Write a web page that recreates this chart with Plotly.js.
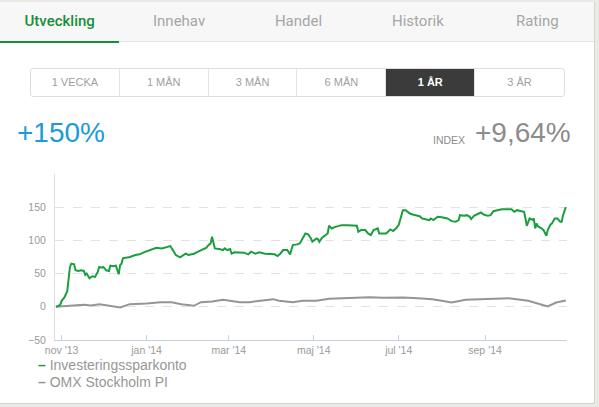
<!DOCTYPE html>
<html><head><meta charset="utf-8">
<script src="https://cdn.plot.ly/plotly-3.0.1.min.js"></script>
<style>
html,body{margin:0;padding:0;width:599px;height:407px;overflow:hidden;background:#e9e9e5;font-family:"Liberation Sans",Arial,sans-serif;}
#card{position:absolute;left:0;top:2px;width:594px;height:401px;background:#fff;border-right:1px solid #d4d4d0;border-bottom:1px solid #d4d4d0;}
#tabs{position:absolute;left:0;top:2px;width:594px;height:39px;background:#f7f7f7;border-bottom:1px solid #e3e3e3;}
.tab{position:absolute;top:0;height:39px;line-height:38px;text-align:center;font-family:Roboto,"Liberation Sans",sans-serif;font-size:15px;color:#a6a6a6;}
.tab.active{color:#15903a;font-weight:500;}
#uline{position:absolute;left:0;top:41px;width:119px;height:2px;background:#15903a;}
#btns{position:absolute;left:30px;top:68px;width:533px;height:27px;border:1px solid #dedede;border-radius:3px;overflow:hidden;}
.btn{position:absolute;top:0;height:27px;line-height:27px;text-align:center;font-size:11px;color:#a0a0a0;border-right:1px solid #e3e3e3;box-sizing:border-box;}
.btn.active{background:#3b3b3b;color:#fff;font-weight:bold;}
#chart{position:absolute;left:0;top:0;width:599px;height:407px;}
.big{position:absolute;font-size:28px;line-height:28px;}
#ret{left:17px;top:119px;color:#1b9bd8;}
#idx{left:475px;top:119px;color:#8c8c8c;}
#idxl{position:absolute;left:433px;top:134px;font-size:10.5px;color:#8c8c8c;}
</style></head>
<body>
<div id="card"></div>
<div id="chart"></div>
<div id="tabs"></div>
<div id="uline"></div>
<div id="btns"></div>
<div id="ret" class="big"></div>
<div id="idxl"></div>
<div id="idx" class="big"></div>
<script>
// ---- data ----
const tabLabels = ["Utveckling","Innehav","Handel","Historik","Rating"];
const periodLabels = ["1 VECKA","1 MÅN","3 MÅN","6 MÅN","1 ÅR","3 ÅR"];
const activePeriod = "1 ÅR";
const returnText = "+150%";
const indexLabel = "INDEX";
const indexText = "+9,64%";

const seriesNames = ["Investeringssparkonto","OMX Stockholm PI"];
const seriesColors = ["#1b9e3e","#959595"];

const accountDates = ['2013-10-28','2013-10-31','2013-11-01','2013-11-03','2013-11-05','2013-11-06','2013-11-07','2013-11-08','2013-11-10','2013-11-11','2013-11-13','2013-11-15','2013-11-17','2013-11-18','2013-11-19','2013-11-21','2013-11-23','2013-11-25','2013-11-27','2013-11-28','2013-11-30','2013-12-01','2013-12-03','2013-12-05','2013-12-06','2013-12-08','2013-12-10','2013-12-11','2013-12-12','2013-12-13','2013-12-14','2013-12-15','2013-12-18','2013-12-20','2013-12-24','2013-12-27','2013-12-30','2014-01-02','2014-01-05','2014-01-08','2014-01-12','2014-01-15','2014-01-18','2014-01-20','2014-01-22','2014-01-25','2014-01-27','2014-01-29','2014-01-31','2014-02-04','2014-02-07','2014-02-10','2014-02-13','2014-02-14','2014-02-16','2014-02-17','2014-02-18','2014-02-19','2014-02-22','2014-02-25','2014-02-26','2014-02-28','2014-03-02','2014-03-03','2014-03-05','2014-03-09','2014-03-12','2014-03-15','2014-03-17','2014-03-20','2014-03-23','2014-03-27','2014-03-31','2014-04-03','2014-04-05','2014-04-07','2014-04-09','2014-04-12','2014-04-14','2014-04-16','2014-04-19','2014-04-21','2014-04-23','2014-04-25','2014-04-27','2014-04-29','2014-04-30','2014-05-03','2014-05-04','2014-05-05','2014-05-07','2014-05-09','2014-05-11','2014-05-12','2014-05-14','2014-05-16','2014-05-18','2014-05-21','2014-05-25','2014-05-28','2014-06-01','2014-06-02','2014-06-04','2014-06-07','2014-06-09','2014-06-11','2014-06-13','2014-06-16','2014-06-17','2014-06-19','2014-06-22','2014-06-25','2014-06-27','2014-06-29','2014-07-01','2014-07-03','2014-07-04','2014-07-06','2014-07-09','2014-07-11','2014-07-13','2014-07-16','2014-07-18','2014-07-21','2014-07-23','2014-07-24','2014-07-26','2014-07-29','2014-08-01','2014-08-05','2014-08-08','2014-08-11','2014-08-13','2014-08-14','2014-08-17','2014-08-19','2014-08-21','2014-08-22','2014-08-24','2014-08-26','2014-08-29','2014-08-31','2014-09-03','2014-09-05','2014-09-07','2014-09-10','2014-09-13','2014-09-17','2014-09-20','2014-09-22','2014-09-24','2014-09-27','2014-09-29','2014-09-30','2014-10-01','2014-10-03','2014-10-05','2014-10-06','2014-10-07','2014-10-08','2014-10-09','2014-10-11','2014-10-13','2014-10-15','2014-10-16','2014-10-18','2014-10-19','2014-10-21','2014-10-23','2014-10-25','2014-10-26','2014-10-27','2014-10-28','2014-10-29'];
const accountValues = [0,3,9,14,23,43,60,65,64,55,54,55,54,48,50,43,46,45,53,60,59,60,55,54,62,61,62,55,49,63,65,73,74,75,78,79,82,84,86,89,88,90,91.5,85,78,74.5,77,80,78,80,83,86,89,92,95.5,105.5,94,88,87,85.5,88,85.5,87,80,82,82,81.5,79,83,80,82,80,79,79,76.5,80,85.5,85.5,79,93,94,95.5,103,110.5,109,103,98,103,102,98,104,107,110.5,122,118,120,121,123,123,123,122,113,115.5,115.5,110.5,108,115.5,118,110.5,110.5,110.5,116.5,114,118,123,138,145.5,145.5,140.5,139,138,136.5,133,132,130.5,133,130.5,135.5,135,133,129,128,130.5,138,137,138,135.5,132,137,139,142,139,137,138,144,145.5,147,147,147,143,145.5,144,143,133,122,133,131,133,118,125.5,121,119,115.5,107,115.5,124,125.5,133,133,128,128,138,145.5,150];

const indexDates = ['2013-10-28','2013-11-05','2013-11-12','2013-11-17','2013-11-22','2013-11-28','2013-12-04','2013-12-10','2013-12-13','2013-12-20','2014-01-01','2014-01-11','2014-01-19','2014-01-26','2014-02-04','2014-02-09','2014-02-17','2014-02-25','2014-03-03','2014-03-09','2014-03-16','2014-03-20','2014-03-27','2014-04-02','2014-04-06','2014-04-16','2014-04-23','2014-05-03','2014-05-12','2014-05-25','2014-06-03','2014-06-10','2014-06-20','2014-07-04','2014-07-15','2014-07-25','2014-08-01','2014-08-08','2014-08-18','2014-09-01','2014-09-18','2014-10-02','2014-10-10','2014-10-16','2014-10-22','2014-10-29'];
const indexValues = [0,1,2,3,2,4,2,0,-1,4,5,7,7,4,1.5,7,8,10.5,9,7,7,8,10,11.5,9,7,9,9,12,13,14,14.5,13.5,14,13,11.5,9,6.5,10.5,12,13,9,4,0.5,6.5,9.64];

const xTickVals = ['2013-11-01','2014-01-01','2014-03-01','2014-05-01','2014-07-01','2014-09-01'];
const xTickText = ["nov '13","jan '14","mar '14","maj '14","jul '14","sep '14"];
const yTickVals = [-50,0,50,100,150];

// ---- header (HTML) ----
const tabs = document.getElementById('tabs');
tabLabels.forEach((t,i)=>{
  const d=document.createElement('div');
  d.className='tab'+(i===0?' active':'');
  d.style.left=(i*119.4)+'px'; d.style.width='119.4px';
  d.textContent=t; tabs.appendChild(d);
});
const btns=document.getElementById('btns');
const bw=533/periodLabels.length;
periodLabels.forEach((t,i)=>{
  const d=document.createElement('div');
  d.className='btn'+(t===activePeriod?' active':'');
  d.style.left=(i*bw)+'px'; d.style.width=bw+'px';
  if(i===periodLabels.length-1) d.style.borderRight='none';
  d.textContent=t; btns.appendChild(d);
});
document.getElementById('ret').textContent=returnText;
document.getElementById('idxl').textContent=indexLabel;
document.getElementById('idx').textContent=indexText;

// ---- chart ----
const traces=[
  {x:accountDates,y:accountValues,type:'scatter',mode:'lines',name:seriesNames[0],line:{color:seriesColors[0],width:2}},
  {x:indexDates,y:indexValues,type:'scatter',mode:'lines',name:seriesNames[1],line:{color:seriesColors[1],width:2}}
];
traces.reverse();
const font="Liberation Sans, Arial, sans-serif";
const annotations=seriesNames.map((n,i)=>({
  xref:'paper',yref:'paper',x:-0.037,y:-0.152-i*0.1,xanchor:'left',yanchor:'middle',showarrow:false,
  text:'<span style="color:'+seriesColors[i]+'"><b>–</b></span> '+n,
  font:{family:font,size:14,color:'#979797'}
}));
const layout={
  width:599,height:407,
  margin:{l:55,r:32,t:174,b:67,pad:0},
  paper_bgcolor:'rgba(0,0,0,0)',plot_bgcolor:'rgba(0,0,0,0)',
  showlegend:false,
  xaxis:{type:'date',range:['2013-10-27 06:00','2014-10-29 20:00'],tickvals:xTickVals,ticktext:xTickText,
    showgrid:false,showline:true,linecolor:'#c8d3e1',linewidth:1,ticks:'inside',ticklen:5,tickcolor:'#c8d3e1',
    tickfont:{family:font,size:10.5,color:'#9a9a9a'},zeroline:false,fixedrange:true},
  yaxis:{range:[-50,200],tickvals:yTickVals,showgrid:true,gridcolor:'#e2e2e2',griddash:'dash',gridwidth:1,
    showline:true,linecolor:'#e0e0e0',linewidth:1,zeroline:false,ticks:'',ticklabelstandoff:6,
    tickfont:{family:font,size:10.5,color:'#9a9a9a'},fixedrange:true},
  annotations:annotations
};
Plotly.newPlot('chart',traces,layout,{displayModeBar:false,staticPlot:true});
</script>
</body></html>
